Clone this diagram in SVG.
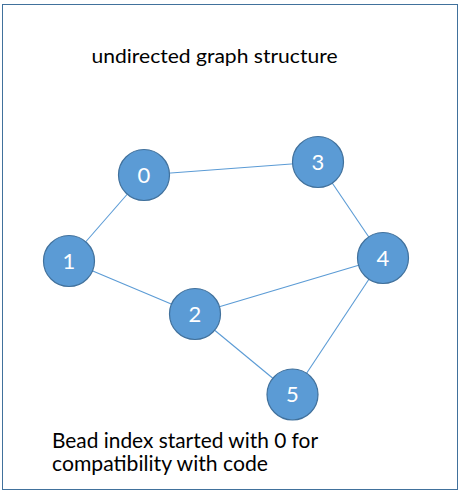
<svg xmlns="http://www.w3.org/2000/svg" width="461" height="496" viewBox="0 0 461 496">
<style>
.node circle{fill:#5B9BD5;stroke:#41719C;stroke-width:1.2}
.node text{fill:#ffffff;font-family:Lato,"Open Sans",sans-serif;font-size:22px;text-anchor:middle}
.edge{stroke:#5B9BD5;stroke-width:1.1;fill:none}
.label{fill:#000000;font-family:Lato,"Open Sans",sans-serif}
</style>
<rect x="2.5" y="4.5" width="455" height="485" fill="#ffffff" stroke="#41719C" stroke-width="1"/>
<text class="label" x="91.5" y="63" font-size="18.5" textLength="246" lengthAdjust="spacingAndGlyphs">undirected graph structure</text>
<g id="connectors">
<line class="edge" x1="144" y1="175" x2="69" y2="261"/>
<line class="edge" x1="144" y1="175" x2="318" y2="162"/>
<line class="edge" x1="69" y1="261" x2="195" y2="314"/>
<line class="edge" x1="195" y1="314" x2="383" y2="258"/>
<line class="edge" x1="195" y1="314" x2="292.5" y2="394.5"/>
<line class="edge" x1="318" y1="162" x2="383" y2="258"/>
<line class="edge" x1="383" y1="258" x2="292.5" y2="394.5"/>
</g>
<g id="node0" class="node"><circle cx="144" cy="175" r="25.5"/><text x="144" y="182.5">0</text></g>
<g id="node1" class="node"><circle cx="69" cy="261" r="25.5"/><text x="69" y="268.5">1</text></g>
<g id="node2" class="node"><circle cx="195" cy="314" r="25.5"/><text x="195" y="321.5">2</text></g>
<g id="node3" class="node"><circle cx="318" cy="162" r="25.5"/><text x="318" y="169.5">3</text></g>
<g id="node4" class="node"><circle cx="383" cy="258" r="25.5"/><text x="383" y="265.5">4</text></g>
<g id="node5" class="node"><circle cx="292.5" cy="394.5" r="25.5"/><text x="292.5" y="402">5</text></g>
<text class="label" x="52" y="447.5" font-size="21.5" textLength="266" lengthAdjust="spacingAndGlyphs">Bead index started with 0 for</text>
<text class="label" x="52" y="471" font-size="21.5" textLength="216" lengthAdjust="spacingAndGlyphs">compatibility with code</text>
</svg>
